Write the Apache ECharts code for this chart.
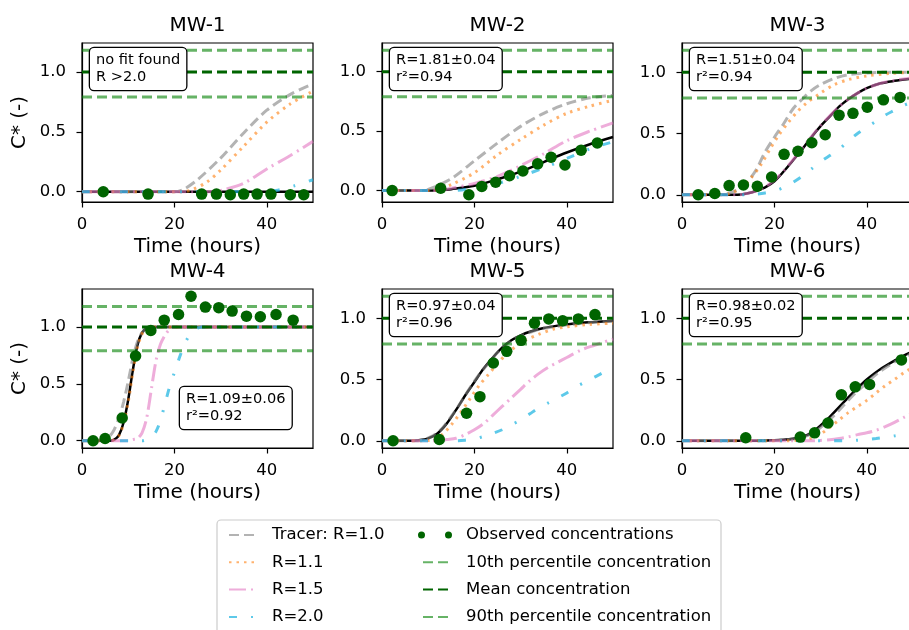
<!DOCTYPE html>
<html><head><meta charset="utf-8">
<script src="https://cdn.jsdelivr.net/npm/echarts@6/dist/echarts.min.js"></script>
<style>html,body{margin:0;padding:0;background:#fff}#c{width:909px;height:630px}</style>
</head><body><div id="c"></div>
<script>
// ---------- data ----------
const panelNames = ['MW-1', 'MW-2', 'MW-3', 'MW-4', 'MW-5', 'MW-6'];
const xTicks = [0, 20, 40];
const yTicks = [0, 0.5, 1.0];
const xRange = [0, 50];
const yMins = [-0.086, -0.096, -0.059, -0.064, -0.059, -0.059];
const yMaxs = [1.241, 1.241, 1.239, 1.334, 1.239, 1.239];
const pct10 = 0.79, meanConc = 1.0, pct90 = 1.18;
const fitText1 = ['no fit found', 'R >2.0'];
const fitText2 = ['R=1.81±0.04', 'r²=0.94'];
const fitText3 = ['R=1.51±0.04', 'r²=0.94'];
const fitText4 = ['R=1.09±0.06', 'r²=0.92'];
const fitText5 = ['R=0.97±0.04', 'r²=0.96'];
const fitText6 = ['R=0.98±0.02', 'r²=0.95'];
const legendNames = ['Tracer: R=1.0', 'R=1.1', 'R=1.5', 'R=2.0', 'Observed concentrations',
  '10th percentile concentration', 'Mean concentration', '90th percentile concentration'];

// MW-1
const mw1_tracer = [[0,0],[20,0],[22,0.02],[25,0.1],[30,0.28],[35,0.49],[40,0.68],[45,0.81],[50,0.9]];
const mw1_r11 = [[0,0],[22,0],[24,0.02],[27,0.08],[30,0.18],[35,0.38],[40,0.58],[45,0.73],[50,0.84]];
const mw1_r15 = [[0,0],[28,0],[31,0.02],[35,0.07],[40,0.19],[45,0.3],[50,0.42]];
const mw1_r20 = [[0,0],[38,0],[42,0.01],[46,0.05],[50,0.1]];
const mw1_fit = [[0,0],[50,0]];
const mw1_obs = [[4.6,0],[14.3,-0.02],[25.9,-0.02],[29.1,-0.02],[32.1,-0.025],[35,-0.02],[37.9,-0.02],[40.9,-0.02],[45.1,-0.025],[48,-0.025]];
// MW-2
const mw2_tracer = [[0,0],[8,0],[10,0.01],[15,0.1],[20,0.25],[25,0.4],[30,0.54],[35,0.65],[40,0.73],[45,0.78],[50,0.8]];
const mw2_r11 = [[0,0],[10,0],[12,0.01],[15,0.05],[20,0.15],[25,0.3],[30,0.43],[35,0.55],[40,0.65],[45,0.71],[50,0.76]];
const mw2_r15 = [[0,0],[12,0],[15,0.02],[20,0.06],[25,0.12],[30,0.21],[35,0.31],[40,0.42],[45,0.5],[50,0.57]];
const mw2_r20 = [[0,0],[15,0],[20,0.02],[25,0.06],[30,0.12],[35,0.19],[40,0.27],[45,0.35],[50,0.41]];
const mw2_fit = [[0,0],[10,0],[13,0.005],[15,0.012],[20,0.04],[25,0.095],[30,0.16],[35,0.24],[40,0.32],[45,0.39],[50,0.45]];
const mw2_obs = [[2.2,0],[12.7,0.02],[18.8,-0.035],[21.6,0.035],[24.6,0.07],[27.6,0.125],[30.5,0.165],[33.7,0.225],[36.6,0.28],[39.6,0.215],[43.1,0.34],[46.6,0.4]];
// MW-3
const mw3_tracer = [[0,0],[8,0],[10,0.01],[12,0.04],[14,0.1],[16,0.2],[18,0.35],[20,0.47],[22,0.58],[24,0.7],[26,0.78],[28,0.85],[30,0.9],[33,0.95],[36,0.98],[40,0.995],[45,1],[50,1]];
const mw3_r11 = [[0,0],[9,0],[11,0.02],[13,0.06],[15,0.14],[17,0.24],[19,0.37],[21,0.49],[23,0.59],[25,0.68],[27,0.75],[30,0.83],[33,0.9],[36,0.94],[40,0.97],[45,0.99],[50,1]];
const mw3_r15 = [[0,0],[12,0],[14,0.01],[16,0.03],[18,0.065],[20,0.12],[22,0.195],[24,0.285],[26,0.38],[28,0.475],[30,0.565],[32,0.645],[34,0.72],[36,0.78],[38,0.83],[40,0.87],[43,0.91],[46,0.935],[50,0.955]];
const mw3_r20 = [[0,0],[14,0],[16,0.005],[18,0.015],[20,0.03],[22,0.06],[24,0.1],[26,0.15],[28,0.21],[30,0.27],[32,0.32],[34,0.37],[36,0.44],[38,0.5],[40,0.55],[42,0.6],[44,0.65],[46,0.69],[48,0.73],[50,0.76]];
const mw3_fit = [[0,0],[12,0],[14,0.01],[16,0.03],[18,0.06],[20,0.11],[22,0.19],[24,0.28],[26,0.37],[28,0.47],[30,0.56],[32,0.64],[34,0.72],[36,0.78],[38,0.83],[40,0.87],[43,0.91],[46,0.93],[50,0.95]];
const mw3_obs = [[3.5,0],[7.1,0.01],[10.2,0.075],[13.3,0.08],[16.3,0.07],[19.4,0.145],[22.1,0.33],[25.1,0.355],[28.1,0.425],[31,0.49],[34,0.65],[37,0.665],[40.1,0.715],[43.6,0.775],[47.2,0.795]];
// MW-4
const mw4_tracer = [[0,0],[4,0],[5,0.01],[6,0.04],[7,0.1],[8,0.2],[9,0.34],[10,0.52],[11,0.72],[12,0.87],[13,0.95],[14,0.99],[15,1],[20,1],[50,1]];
const mw4_r11 = [[0,0],[6,0],[7,0.01],[8,0.045],[9,0.15],[10,0.34],[11,0.6],[12,0.82],[13,0.94],[14,0.985],[15,1],[20,1],[50,1]];
const mw4_r15 = [[0,0],[10,0],[11,0.01],[12,0.02],[13,0.07],[14,0.2],[15,0.45],[16,0.7],[17,0.85],[18,0.93],[19,0.98],[20,1],[25,1],[50,1]];
const mw4_r20 = [[0,0],[13,0],[14,0.01],[15,0.03],[16,0.08],[17,0.18],[18,0.33],[19,0.48],[20,0.6],[21,0.72],[22,0.83],[23,0.91],[24,0.96],[25,0.99],[26,1],[30,1],[50,1]];
const mw4_fit = [[0,0],[6,0],[7,0.01],[8,0.05],[9,0.16],[10,0.36],[11,0.62],[12,0.84],[13,0.95],[14,0.99],[15,1],[20,1],[50,1]];
const mw4_obs = [[2.4,0],[5,0.02],[8.7,0.2],[11.6,0.745],[14.9,0.97],[17.8,1.06],[20.9,1.11],[23.6,1.27],[26.7,1.175],[29.6,1.17],[32.5,1.14],[35.6,1.095],[38.6,1.09],[42,1.11],[45.7,1.06]];
// MW-5
const mw5_tracer = [[0,0],[7,0],[9,0.01],[11,0.04],[13,0.1],[15,0.2],[17,0.31],[19,0.43],[21,0.54],[23,0.63],[25,0.72],[27,0.79],[29,0.84],[31,0.87],[34,0.91],[37,0.93],[41,0.95],[45,0.965],[50,0.975]];
const mw5_r11 = [[0,0],[9,0],[11,0.01],[13,0.05],[15,0.13],[17,0.23],[19,0.34],[21,0.45],[23,0.54],[25,0.63],[27,0.71],[29,0.77],[31,0.82],[34,0.87],[37,0.91],[40,0.93],[45,0.95],[50,0.96]];
const mw5_r15 = [[0,0],[12,0],[14,0.01],[16,0.02],[18,0.05],[20,0.09],[22,0.14],[24,0.21],[26,0.28],[28,0.35],[30,0.42],[32,0.49],[34,0.55],[36,0.6],[38,0.64],[40,0.68],[43,0.74],[46,0.78],[50,0.83]];
const mw5_r20 = [[0,0],[16,0],[18,0.005],[20,0.015],[22,0.035],[24,0.06],[26,0.09],[28,0.13],[30,0.17],[32,0.22],[34,0.27],[36,0.31],[38,0.35],[40,0.39],[42,0.44],[44,0.48],[46,0.52],[48,0.56],[50,0.61]];
const mw5_fit = [[0,0],[6,0],[8,0.005],[10,0.02],[12,0.06],[14,0.14],[16,0.25],[18,0.37],[20,0.48],[22,0.59],[24,0.68],[26,0.76],[28,0.82],[30,0.86],[32,0.89],[35,0.92],[38,0.94],[42,0.96],[46,0.97],[50,0.98]];
const mw5_obs = [[2.4,0],[12.4,0.01],[18.3,0.225],[21.2,0.36],[24.1,0.635],[27,0.73],[30.1,0.82],[33,0.96],[36.1,0.995],[39.1,0.98],[42.5,0.995],[46.1,1.03]];
// MW-6
const mw6_tracer = [[0,0],[17,0],[21,0.004],[23,0.01],[25,0.02],[27,0.04],[29,0.08],[31,0.14],[33,0.21],[35,0.29],[37,0.37],[39,0.44],[41,0.51],[43,0.57],[45,0.62],[47,0.665],[49,0.7],[50,0.72]];
const mw6_r11 = [[0,0],[22,0],[26,0.005],[28,0.02],[30,0.055],[32,0.11],[34,0.17],[36,0.23],[38,0.28],[40,0.33],[42,0.39],[44,0.45],[46,0.5],[48,0.555],[50,0.6]];
const mw6_r15 = [[0,0],[28,0],[30,0.003],[32,0.008],[34,0.018],[36,0.032],[38,0.05],[40,0.065],[42,0.085],[44,0.115],[46,0.15],[48,0.19],[50,0.23]];
const mw6_r20 = [[0,0],[36,0],[38,0.005],[40,0.01],[42,0.018],[44,0.028],[46,0.04],[48,0.053],[50,0.065]];
const mw6_fit = [[0,0],[16,0],[20,0.004],[22,0.008],[24,0.016],[26,0.033],[28,0.065],[30,0.125],[32,0.195],[34,0.275],[36,0.355],[38,0.43],[40,0.5],[42,0.56],[44,0.61],[46,0.655],[48,0.695],[50,0.73]];
const mw6_obs = [[13.8,0.025],[25.6,0.03],[28.7,0.065],[31.6,0.145],[34.5,0.375],[37.5,0.44],[40.6,0.46],[47.5,0.66]];

// ---------- assembly ----------
const tracerSets = [mw1_tracer, mw2_tracer, mw3_tracer, mw4_tracer, mw5_tracer, mw6_tracer];
const r11Sets = [mw1_r11, mw2_r11, mw3_r11, mw4_r11, mw5_r11, mw6_r11];
const r15Sets = [mw1_r15, mw2_r15, mw3_r15, mw4_r15, mw5_r15, mw6_r15];
const r20Sets = [mw1_r20, mw2_r20, mw3_r20, mw4_r20, mw5_r20, mw6_r20];
const fitSets = [mw1_fit, mw2_fit, mw3_fit, mw4_fit, mw5_fit, mw6_fit];
const obsSets = [mw1_obs, mw2_obs, mw3_obs, mw4_obs, mw5_obs, mw6_obs];
const fitTexts = [fitText1, fitText2, fitText3, fitText4, fitText5, fitText6];

const FONT = 'DejaVu Sans';
const colLeft = [82, 382, 682];
const rowTop = [43, 289];
const GW = 231, GH = 159;
const boxPos = [[90, 48], [390, 48], [690, 48], [180, 387], [390, 294], [690, 294]];

const C_TRACER = 'rgba(128,128,128,0.6)';
const C_R11 = 'rgba(255,127,14,0.6)';
const C_R15 = 'rgba(227,119,194,0.6)';
const C_R20 = 'rgba(30,180,225,0.72)';
const C_PCT = 'rgba(0,128,0,0.6)';
const C_MEAN = '#006400';
const DASH = [10, 5], DOT = [2.5, 5], DASHDOT = [17, 5, 2, 5], DASHDOT2 = [8, 14, 2, 14];

const grids = [], xAxes = [], yAxes = [], series = [], graphics = [];
for (let i = 0; i < 6; i++) {
  const r = Math.floor(i / 3), c = i % 3;
  grids.push({left: colLeft[c], top: rowTop[r], width: GW, height: GH, show: true,
    borderColor: '#000', borderWidth: 1.2, backgroundColor: 'transparent',
    containLabel: false, outerBoundsMode: 'none'});
  xAxes.push({gridIndex: i, type: 'value', min: xRange[0], max: xRange[1],
    axisLine: {show: true, onZero: false, lineStyle: {color: '#000', width: 1.2}},
    axisTick: {show: true, length: 5.5, customValues: xTicks, lineStyle: {color: '#000', width: 1.2}},
    axisLabel: {customValues: xTicks, fontSize: 16.5, fontFamily: FONT, color: '#000', margin: 14,
      formatter: v => String(v)},
    splitLine: {show: false},
    name: 'Time (hours)', nameLocation: 'middle', nameGap: 35,
    nameTextStyle: {fontSize: 20, fontFamily: FONT, color: '#000'}});
  yAxes.push({gridIndex: i, type: 'value', min: yMins[i], max: yMaxs[i],
    axisLine: {show: true, onZero: false, lineStyle: {color: '#000', width: 1.2}},
    axisTick: {show: true, length: 5.5, customValues: yTicks, lineStyle: {color: '#000', width: 1.2}},
    axisLabel: {customValues: yTicks, fontSize: 16.5, fontFamily: FONT, color: '#000', margin: 16,
      formatter: v => v.toFixed(1)},
    splitLine: {show: false},
    name: c === 0 ? 'C* (-)' : '', nameLocation: 'middle', nameGap: 52, nameRotate: 90,
    nameTextStyle: {fontSize: 20, fontFamily: FONT, color: '#000'}});

  const base = {type: 'line', xAxisIndex: i, yAxisIndex: i, symbol: 'none', showSymbol: false,
    smooth: 0.3, silent: true, animation: false};
  series.push(Object.assign({}, base, {name: 'fit', data: fitSets[i], z: 2,
    lineStyle: {color: '#000', width: 2.5}, itemStyle: {color: '#000'}}));
  series.push(Object.assign({}, base, {name: legendNames[0], data: tracerSets[i], z: 3,
    lineStyle: {color: C_TRACER, width: 3, type: DASH}, itemStyle: {color: C_TRACER}}));
  series.push(Object.assign({}, base, {name: legendNames[1], data: r11Sets[i], z: 3,
    lineStyle: {color: C_R11, width: 3, type: DOT}, itemStyle: {color: C_R11}}));
  series.push(Object.assign({}, base, {name: legendNames[2], data: r15Sets[i], z: 3,
    lineStyle: {color: C_R15, width: 3, type: DASHDOT}, itemStyle: {color: C_R15}}));
  series.push(Object.assign({}, base, {name: legendNames[3], data: r20Sets[i], z: 3,
    lineStyle: {color: C_R20, width: 3, type: DASHDOT2}, itemStyle: {color: C_R20}}));
  const hl = [[legendNames[5], pct10, C_PCT], [legendNames[6], meanConc, C_MEAN], [legendNames[7], pct90, C_PCT]];
  hl.forEach(h => series.push(Object.assign({}, base, {name: h[0], smooth: false,
    data: [[xRange[0], h[1]], [xRange[1], h[1]]], z: 4,
    lineStyle: {color: h[2], width: 3, type: DASH}, itemStyle: {color: h[2]}})));
  series.push({type: 'scatter', name: legendNames[4], xAxisIndex: i, yAxisIndex: i, data: obsSets[i],
    symbol: 'circle', symbolSize: 11.5, itemStyle: {color: '#006400', opacity: 1}, z: 5, silent: true, animation: false});

  graphics.push({type: 'text', x: colLeft[c] + GW / 2, y: rowTop[r] - 27, z: 20,
    style: {text: panelNames[i], fontSize: 20, fontFamily: FONT, fill: '#000', align: 'center', verticalAlign: 'top'}});
  graphics.push({type: 'text', x: boxPos[i][0], y: boxPos[i][1], z: 20,
    style: {text: fitTexts[i].join('\n'), fontSize: 14.6, fontFamily: FONT, fill: '#000', lineHeight: 17,
      align: 'left', verticalAlign: 'top', backgroundColor: '#fff', borderColor: '#000', borderWidth: 1.3,
      borderRadius: 4, padding: [4, 6, 4, 6]}});
}
graphics.push({type: 'rect', z: 0, shape: {x: 217, y: 520, width: 504, height: 140, r: 4},
  style: {fill: '#fff', stroke: '#cccccc', lineWidth: 1.2}});

const hide = {opacity: 0};
const legendText = {fontSize: 16.5, fontFamily: FONT, color: '#000', lineHeight: 20};
const option = {
  backgroundColor: '#fff',
  animation: false,
  grid: grids, xAxis: xAxes, yAxis: yAxes, series: series,
  graphic: {elements: graphics},
  legend: [
    {left: 228, top: 525, orient: 'vertical', padding: 0, itemWidth: 26, itemHeight: 14, itemGap: 7.3,
      selectedMode: false, z: 10, textStyle: Object.assign({padding: [0, 0, 0, 12]}, legendText),
      data: [
        {name: legendNames[0], itemStyle: hide},
        {name: legendNames[1], itemStyle: hide},
        {name: legendNames[2], itemStyle: hide},
        {name: legendNames[3], itemStyle: hide}]},
    {left: 417, top: 525, orient: 'vertical', padding: 0, itemWidth: 34, itemHeight: 14, itemGap: 7.3,
      selectedMode: false, z: 10, textStyle: Object.assign({padding: [0, 0, 0, 9]}, legendText),
      data: [
        {name: legendNames[4], icon: 'path://M0,3.5a3.5,3.5 0 1,0 7,0a3.5,3.5 0 1,0 -7,0zM27,3.5a3.5,3.5 0 1,0 7,0a3.5,3.5 0 1,0 -7,0z'},
        {name: legendNames[5], itemStyle: hide, lineStyle: {dashOffset: 10}},
        {name: legendNames[6], itemStyle: hide, lineStyle: {dashOffset: 10}},
        {name: legendNames[7], itemStyle: hide, lineStyle: {dashOffset: 10}}]}
  ]
};
const chart = echarts.init(document.getElementById('c'), null, {renderer: 'canvas'});
chart.setOption(option);
</script></body></html>
